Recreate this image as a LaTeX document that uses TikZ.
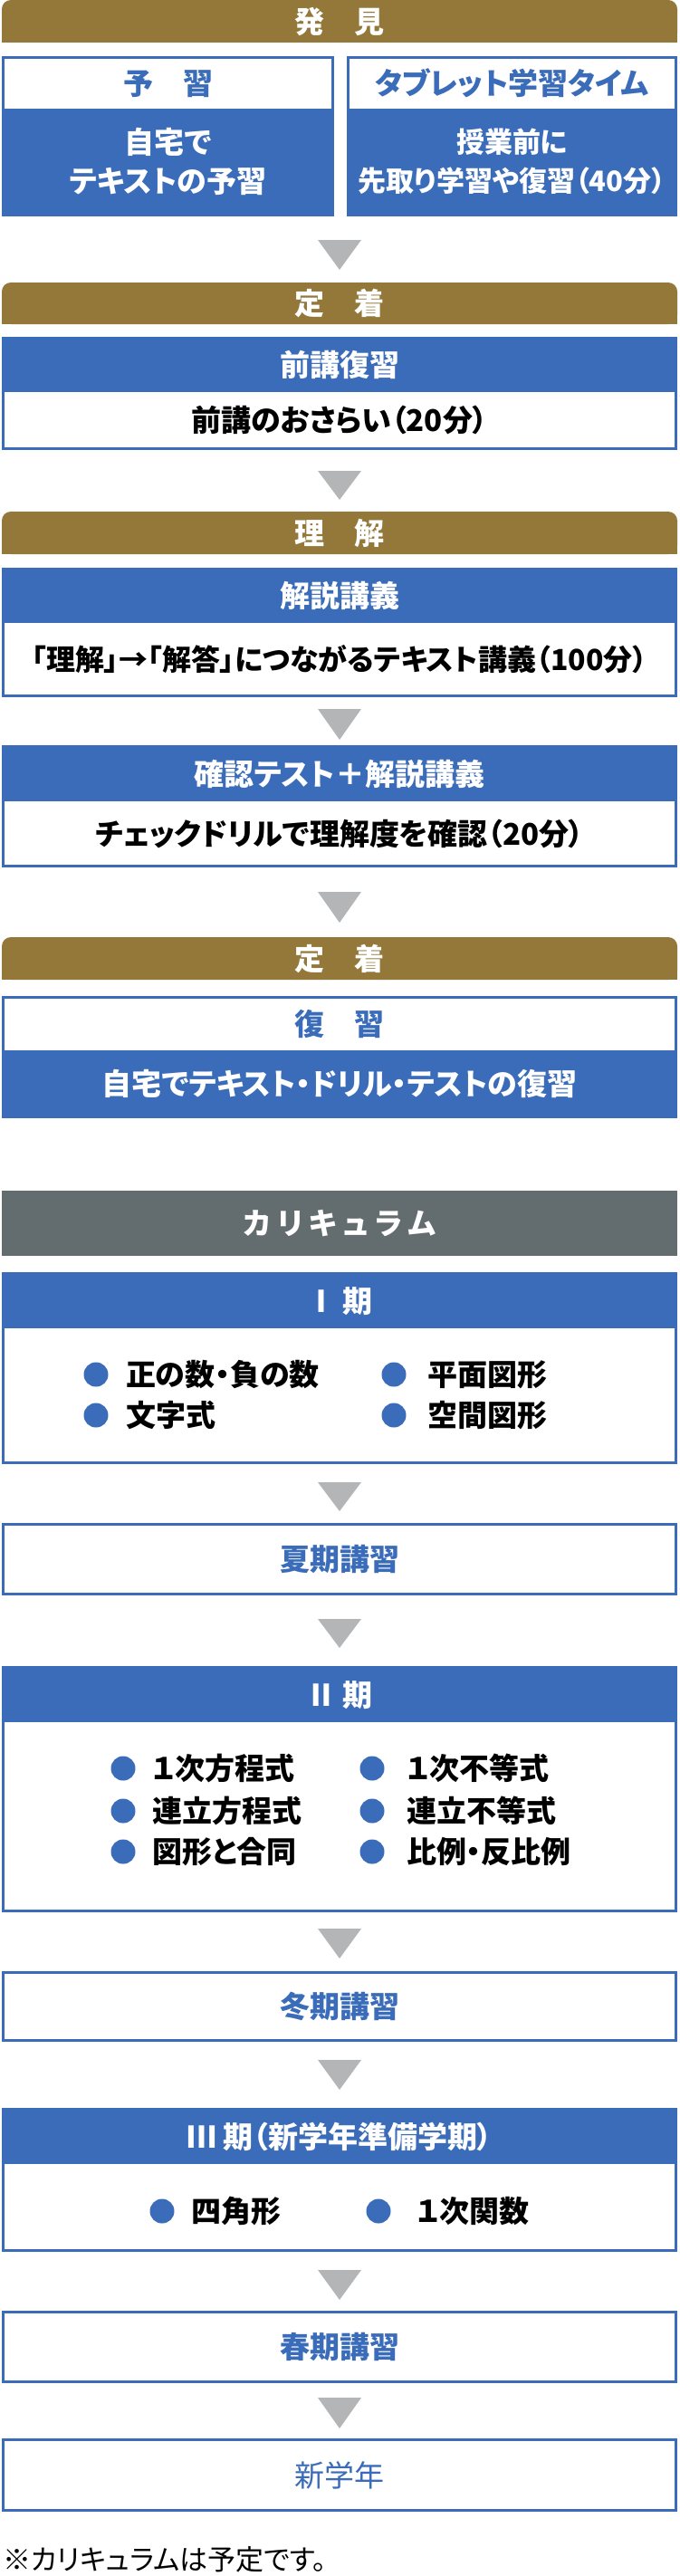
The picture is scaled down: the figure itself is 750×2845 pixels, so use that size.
\documentclass[tikz,border=0pt]{standalone}
\usepackage{fontspec}
\setmainfont{Noto Sans CJK JP}[RawFeature=+palt]
\definecolor{mblue}{HTML}{3A6CB9}
\definecolor{mgold}{HTML}{93783A}
\definecolor{mgray}{HTML}{636D70}
\definecolor{tgray}{HTML}{B4B5B6}
\newcommand{\flowtri}[2]{\fill[tgray] (351,#1) -- (399,#1) -- (375,#2) -- cycle;}
\newcommand{\goldbar}[2]{\fill[mgold, rounded corners=10pt] (2,#1) rectangle (748,#2);
  \fill[mgold] (2,#1+20) rectangle (748,#2);}
\begin{document}
\begin{tikzpicture}[x=1pt,y=-1pt,
 txt/.style={inner sep=0pt, outer sep=0pt, text height=27pt, text depth=2pt, font=\fontsize{33}{43}\selectfont\bfseries},
 two/.style={inner sep=0pt, outer sep=0pt, align=center, font=\fontsize{33}{43}\selectfont\bfseries},
 onwhite/.style={fill=white, text=mblue},
 onblue/.style={fill=mblue, text=white},
 plain/.style={fill=white, text=black},
 frame/.style={draw=mblue, line width=3pt},
 hdr/.style={txt, text=white},
 item/.style={txt, anchor=west, text=black},
 dot/.style={circle, fill=mblue, minimum size=27pt, inner sep=0pt, outer sep=0pt},
 fullw/.style={minimum width=743pt},
]
\useasboundingbox (0,0) rectangle (750,2845);

% ---- 発見
\goldbar{0}{47}
\node[hdr] (h1) at (375,24) {発　見};

\node[txt, onwhite, minimum width=364pt, minimum height=56.5pt] (yc) at (185.5,91.75) {予　習};
\node[two, onblue, minimum width=364pt, minimum height=117.5pt] (yb) at (185.5,178.75) {自宅で\\テキストの予習};
\draw[frame] (yc.north west) rectangle (yb.south east);

\node[txt, onwhite, minimum width=362pt, minimum height=56.5pt] (tc) at (565.5,91.75) {タブレット学習タイム};
\node[two, onblue, minimum width=362pt, minimum height=117.5pt, font=\fontsize{31}{43}\selectfont\bfseries] (tb) at (565.5,178.75) {授業前に\\先取り学習や復習（40分）};
\draw[frame] (tc.north west) rectangle (tb.south east);

\flowtri{265}{298}

% ---- 定着
\goldbar{312}{358}
\node[hdr] (h2) at (375,335) {定　着};

\node[txt, onblue, fullw, minimum height=59.5pt] (zc) at (375,403.25) {前講復習};
\node[txt, plain, fullw, minimum height=62.5pt] (zb) at (375,464.25) {前講のおさらい（20分）};
\draw[frame] (zc.north west) rectangle (zb.south east);

\flowtri{520}{552}

% ---- 理解
\goldbar{565}{612}
\node[hdr] (h3) at (375,588.5) {理　解};

\node[txt, onblue, fullw, minimum height=59.5pt] (kc) at (375,658.25) {解説講義};
\node[txt, plain, fullw, minimum height=80.5pt, font=\fontsize{32}{43}\selectfont\bfseries] (kb) at (375,728.25) {「理解」→「解答」につながるテキスト講義（100分）};
\draw[frame] (kc.north west) rectangle (kb.south east);

\flowtri{783}{817}

\node[txt, onblue, fullw, minimum height=60.5pt] (qc) at (375,854.75) {確認テスト＋解説講義};
\node[txt, plain, fullw, minimum height=71.5pt] (qb) at (375,920.75) {チェックドリルで理解度を確認（20分）};
\draw[frame] (qc.north west) rectangle (qb.south east);

\flowtri{985}{1019}

% ---- 定着
\goldbar{1035}{1082}
\node[hdr] (h4) at (375,1058.5) {定　着};

\node[txt, onwhite, fullw, minimum height=58.5pt] (fc) at (375,1130.75) {復　習};
\node[txt, onblue, fullw, minimum height=73.5pt] (fb) at (375,1196.75) {自宅でテキスト・ドリル・テストの復習};
\draw[frame] (fc.north west) rectangle (fb.south east);

% ---- カリキュラム
\node[txt, fill=mgray, text=white, minimum width=746pt, minimum height=72pt] (cur) at (375,1351)
  {カ\hspace{7pt}リ\hspace{7pt}キ\hspace{7pt}ュ\hspace{7pt}ラ\hspace{7pt}ム};

% ---- I期
\node[txt, onblue, fullw, minimum height=60.5pt] (k1c) at (375,1436.75) {Ⅰ 期};
\node[txt, plain, fullw, minimum height=148.5pt] (k1b) at (375,1541.25) {};
\draw[frame] (k1c.north west) rectangle (k1b.south east);
\node[dot] (d11) at (106,1518) {};
\node[item] (i11) at (139,1518) {正の数・負の数};
\node[dot] (d12) at (435,1518) {};
\node[item] (i12) at (472,1518) {平面図形};
\node[dot] (d21) at (106,1563) {};
\node[item] (i21) at (139,1563) {文字式};
\node[dot] (d22) at (435,1563) {};
\node[item] (i22) at (472,1563) {空間図形};

\flowtri{1637}{1669}

\node[txt, onwhite, fullw, minimum height=77pt, frame] (kaki) at (375,1722) {夏期講習};

\flowtri{1788}{1820}

% ---- II期
\node[txt, onblue, fullw, minimum height=60.5pt] (k2c) at (375,1871.75) {Ⅱ 期};
\node[txt, plain, fullw, minimum height=208.5pt] (k2b) at (375,2006.25) {};
\draw[frame] (k2c.north west) rectangle (k2b.south east);
\node[dot] (e11) at (136,1953) {};
\node[item] (j11) at (168,1953) {１次方程式};
\node[dot] (e12) at (411,1953) {};
\node[item] (j12) at (449,1953) {１次不等式};
\node[dot] (e21) at (136,2000) {};
\node[item] (j21) at (168,2000) {連立方程式};
\node[dot] (e22) at (411,2000) {};
\node[item] (j22) at (449,2000) {連立不等式};
\node[dot] (e31) at (136,2045) {};
\node[item] (j31) at (168,2045) {図形と合同};
\node[dot] (e32) at (411,2045) {};
\node[item] (j32) at (449,2045) {比例・反比例};

\flowtri{2130}{2163}

\node[txt, onwhite, fullw, minimum height=75pt, frame] (toki) at (375,2216) {冬期講習};

\flowtri{2275}{2308}

% ---- III期
\node[txt, onblue, fullw, minimum height=60.5pt] (k3c) at (375,2359.75) {Ⅲ 期（新学年準備学期）};
\node[txt, plain, fullw, minimum height=95.5pt] (k3b) at (375,2437.75) {};
\draw[frame] (k3c.north west) rectangle (k3b.south east);
\node[dot] (g1) at (179,2442) {};
\node[item] (m1) at (211,2442) {四角形};
\node[dot] (g2) at (418,2442) {};
\node[item] (m2) at (460,2442) {１次関数};

\flowtri{2507}{2540}

\node[txt, onwhite, fullw, minimum height=77pt, frame] (shun) at (375,2592) {春期講習};

\flowtri{2648}{2682}

\node[txt, onwhite, fullw, minimum height=78pt, frame, font=\fontsize{33}{43}\selectfont\mdseries] (shin) at (375,2733.5) {新学年};

\node[txt, anchor=west, text=black, font=\fontsize{31}{43}\selectfont\mdseries] (note) at (3,2826) {※カリキュラムは予定です。};
\end{tikzpicture}
\end{document}
